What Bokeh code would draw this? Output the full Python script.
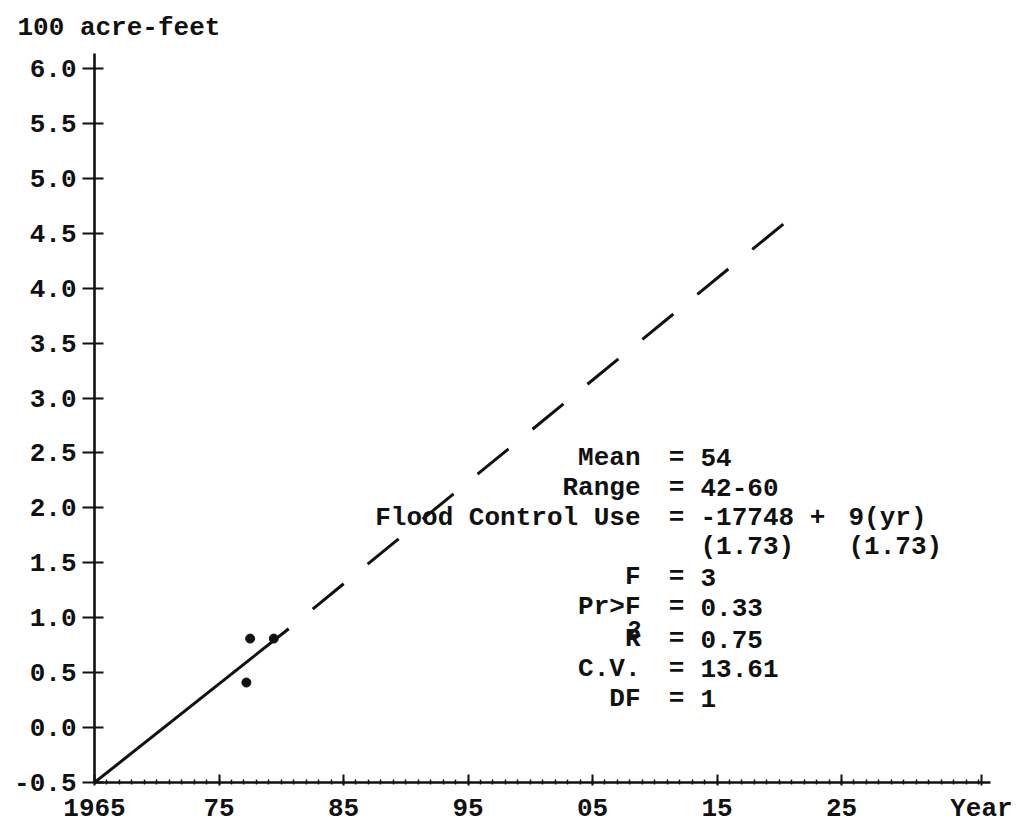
from bokeh.plotting import figure
from bokeh.models import FixedTicker, PrintfTickFormatter, Label, ColumnDataSource, Range1d
from bokeh.core.properties import value
from bokeh.embed import file_html
from bokeh.resources import INLINE

# ---- data ----
point_years = [1977.2, 1977.5, 1979.4]
point_values = [0.41, 0.81, 0.81]

trend_years = [1965, 1980.6, 2020.5]
trend_values = [-0.5, 0.9, 4.6]

x_major_ticks = [1965, 1975, 1985, 1995, 2005, 2015, 2025]
x_tick_labels = ["1965", "75", "85", "95", "05", "15", "25"]
y_ticks = [-0.5, 0.0, 0.5, 1.0, 1.5, 2.0, 2.5, 3.0, 3.5, 4.0, 4.5, 5.0, 5.5, 6.0]

stat_names = ["Mean", "Range", "Flood Control Use", "", "F", "Pr>F", "R", "C.V.", "DF"]
stat_eq = ["=", "=", "=", "", "=", "=", "=", "=", "="]
stat_values = ["54", "42-60", "-17748 +", "(1.73)", "3", "0.33", "0.75", "13.61", "1"]
stat_values2 = ["", "", "9(yr)", "(1.73)", "", "", "", "", ""]

y_unit_label = "100 acre-feet"
x_unit_label = "Year"

# ---- layout geometry (pixels) ----
W, H = 1019, 826
FL, FT, FR, FB = 94, 52, 990, 784
PX_PER_YEAR = 12.45
PX_PER_UNIT = 110.3
X0 = 1965.0
X1 = X0 + (FR - FL) / PX_PER_YEAR
Y0 = -0.5
Y1 = Y0 + (FB - FT) / PX_PER_UNIT


def px_x(px):
    return X0 + (px - FL) / PX_PER_YEAR


def px_y(py):
    return Y0 + (FB - py) / PX_PER_UNIT


FONT = "Liberation Mono"
INK = "#111111"

p = figure(width=W, height=H, output_backend="svg", toolbar_location=None,
           x_range=Range1d(X0, X1), y_range=Range1d(Y0, Y1),
           min_border_left=FL, min_border_right=W - FR,
           min_border_top=FT, min_border_bottom=H - FB)
p.background_fill_color = "white"
p.border_fill_color = "white"
p.outline_line_color = None
p.grid.visible = False

# unit label of the value axis, top-left
p.title.text = y_unit_label
p.title.align = "left"
p.title.offset = 17 - FL
p.title.standoff = 21
p.title.text_font = FONT
p.title.text_font_style = "bold"
p.title.text_font_size = "26px"
p.title.text_color = INK

# x axis ("Year" sits as the last label at the right end)
year_pos = round(px_x(981), 2)
xa = p.xaxis[0]
xa.ticker = FixedTicker(ticks=x_major_ticks + [year_pos], minor_ticks=list(range(1965, 2037)))
overrides = {t: l for t, l in zip(x_major_ticks, x_tick_labels)}
overrides[year_pos] = x_unit_label
xa.major_label_overrides = overrides
xa.axis_line_width = 2.4
xa.axis_line_color = INK
xa.major_tick_line_color = INK
xa.major_tick_line_width = 2
xa.major_tick_in = 8
xa.major_tick_out = 3
xa.minor_tick_line_color = INK
xa.minor_tick_line_width = 1.5
xa.minor_tick_in = 3
xa.minor_tick_out = 2
xa.major_label_standoff = 8
xa.major_label_text_font = FONT
xa.major_label_text_font_style = "bold"
xa.major_label_text_font_size = "26px"
xa.major_label_text_color = INK

# y axis
ya = p.yaxis[0]
ya.ticker = FixedTicker(ticks=y_ticks)
ya.formatter = PrintfTickFormatter(format="%.1f")
ya.axis_line_width = 2.6
ya.axis_line_color = INK
ya.major_tick_line_color = INK
ya.major_tick_line_width = 2
ya.major_tick_in = 9
ya.major_tick_out = 12
ya.minor_tick_line_color = None
ya.major_label_standoff = 6
ya.major_label_text_font = FONT
ya.major_label_text_font_style = "bold"
ya.major_label_text_font_size = "26px"
ya.major_label_text_color = INK

# trend line: solid part then dashed projection
p.line(trend_years[:2], trend_values[:2], line_color=INK, line_width=3)
p.line(trend_years[1:], trend_values[1:], line_color=INK, line_width=3,
       line_dash="40 31", line_dash_offset=40)

# observations
p.scatter(point_years, point_values, size=9, color=INK)

# statistics block
rows_px = [458, 488, 518, 548, 578, 608, 640, 670, 700]
ys = [px_y(r) for r in rows_px]
n = len(ys)
common = dict(text="t", text_font=value(FONT), text_font_style="bold",
              text_font_size="26px", text_color=INK, text_baseline="alphabetic")
p.text(x="x", y="y", source=ColumnDataSource(dict(x=[px_x(640)] * n, y=ys, t=stat_names)),
       text_align="right", **common)
p.text(x="x", y="y", source=ColumnDataSource(dict(x=[px_x(676)] * n, y=ys, t=stat_eq)),
       text_align="center", **common)
p.text(x="x", y="y", source=ColumnDataSource(dict(x=[px_x(700)] * n, y=ys, t=stat_values)),
       text_align="left", **common)
p.text(x="x", y="y", source=ColumnDataSource(dict(x=[px_x(848)] * n, y=ys, t=stat_values2)),
       text_align="left", **common)
p.add_layout(Label(x=px_x(634), y=px_y(630), text="2", text_font=FONT,
                   text_font_style="bold", text_font_size="24px", text_color=INK,
                   text_align="center", text_baseline="alphabetic"))

open("out.html", "w").write(file_html(p, INLINE))
